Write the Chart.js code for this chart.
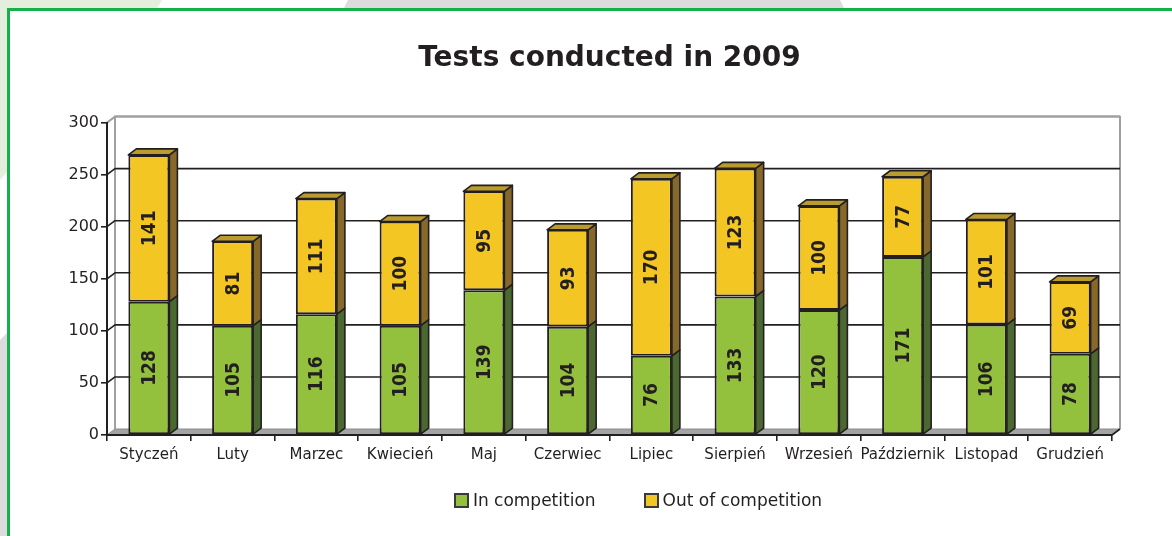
<!DOCTYPE html>
<html>
<head>
<meta charset="utf-8">
<script src="https://cdn.jsdelivr.net/npm/chart.js@4/dist/chart.umd.min.js"></script>
<style>
  html, body { margin: 0; padding: 0; background: #fff; overflow: hidden; }
  body { width: 1172px; height: 536px; position: relative; font-family: 'DejaVu Sans', sans-serif; }
  .deco-green { position: absolute; left: 0; top: 0; width: 170px; height: 180px; background: #e3efdc;
    clip-path: polygon(0 0, 162px 0, 156px 10px, 10px 10px, 10px 168px, 0 180px); }
  .deco-grey-top { position: absolute; left: 340px; top: 0; width: 510px; height: 12px; background: #dcdcde;
    clip-path: polygon(8px 0, 500px 0, 506px 12px, 2px 12px); }
  .deco-grey-left { position: absolute; left: 0; top: 330px; width: 10px; height: 206px; background: #dcdcde;
    clip-path: polygon(0 10px, 10px 0, 10px 206px, 0 206px); }
  .frame { position: absolute; left: 7px; top: 8px; width: 1200px; height: 600px; border: 3px solid #15b04a; background: #fff; }
  #chart { position: absolute; left: 0; top: 0; }
  #legend { position: absolute; top: 490px; left: 0; width: 1276px; display: flex; justify-content: center; gap: 48px;
    font-size: 17px; color: #231f20; }
  #legend .item { display: flex; align-items: center; gap: 4px; }
  #legend .box { width: 11px; height: 11px; border: 2px solid #3a3a3a; }
</style>
</head>
<body>
<div class="deco-green"></div>
<div class="deco-grey-top"></div>
<div class="deco-grey-left"></div>
<div class="frame"></div>
<canvas id="chart" width="1172" height="536"></canvas>
<div id="legend"></div>
<script>
const months = ['Styczeń', 'Luty', 'Marzec', 'Kwiecień', 'Maj', 'Czerwiec', 'Lipiec', 'Sierpień', 'Wrzesień', 'Październik', 'Listopad', 'Grudzień'];
const inCompetition = [128, 105, 116, 105, 139, 104, 76, 133, 120, 171, 106, 78];
const outOfCompetition = [141, 81, 111, 100, 95, 93, 170, 123, 100, 77, 101, 69];
const seriesNames = ['In competition', 'Out of competition'];
const yTicks = [0, 50, 100, 150, 200, 250, 300];

const frontColors = ['#93c13e', '#f4c623'];
const sideColors = ['#4b6830', '#86692a'];
const topColor = '#b99b2e';
const ink = '#231f20';
const DX = 8, DY = 6;

function poly(ctx, pts, fill) {
    ctx.beginPath();
    ctx.moveTo(pts[0][0], pts[0][1]);
    for (let i = 1; i < pts.length; i++) ctx.lineTo(pts[i][0], pts[i][1]);
    ctx.closePath();
    ctx.fillStyle = fill;
    ctx.fill();
    ctx.stroke();
}

// back wall, floor and gridlines (drawn before the scales)
const wallPlugin = {
    id: 'wall3d',
    beforeDraw(chart) {
        const {ctx, chartArea: a, scales: {y}} = chart;
        ctx.save();
        ctx.lineJoin = 'round';
        // floor
        ctx.strokeStyle = '#8c8c8c';
        ctx.lineWidth = 1;
        poly(ctx, [[a.left, a.bottom], [a.right, a.bottom], [a.right + DX, a.bottom - DY], [a.left + DX, a.bottom - DY]], '#a4a4a6');
        // wall outline
        ctx.strokeStyle = '#a0a0a0';
        ctx.lineWidth = 2;
        ctx.beginPath();
        ctx.moveTo(a.left + DX, a.bottom - DY);
        ctx.lineTo(a.left + DX, a.top - DY);
        ctx.lineTo(a.right + DX, a.top - DY);
        ctx.lineTo(a.right + DX, a.bottom - DY);
        ctx.stroke();
        // gridlines
        yTicks.forEach(v => {
            if (v === 0) return;
            const py = y.getPixelForValue(v);
            const isTop = v === yTicks[yTicks.length - 1];
            ctx.strokeStyle = isTop ? '#a0a0a0' : ink;
            ctx.lineWidth = isTop ? 2 : 1.6;
            ctx.beginPath();
            ctx.moveTo(a.left, py);
            ctx.lineTo(a.left + DX, py - DY);
            ctx.lineTo(a.right + DX, py - DY);
            ctx.stroke();
        });
        // front floor edge
        ctx.strokeStyle = ink;
        ctx.lineWidth = 1.6;
        ctx.beginPath();
        ctx.moveTo(a.right, a.bottom);
        ctx.lineTo(a.right + DX, a.bottom - DY);
        ctx.stroke();
        ctx.restore();
    }
};

// side / top faces and the value labels
const barPlugin = {
    id: 'bars3d',
    afterDatasetsDraw(chart) {
        const ctx = chart.ctx;
        const last = chart.data.datasets.length - 1;
        ctx.save();
        ctx.strokeStyle = ink;
        ctx.lineWidth = 1.6;
        ctx.lineJoin = 'round';
        chart.data.datasets.forEach((ds, di) => {
            chart.getDatasetMeta(di).data.forEach((bar, i) => {
                const {x, y, base, width} = bar.getProps(['x', 'y', 'base', 'width'], true);
                const l = x - width / 2, r = x + width / 2;
                poly(ctx, [[r, y], [r + DX, y - DY], [r + DX, base - DY], [r, base]], sideColors[di]);
                if (di === last) {
                    poly(ctx, [[l, y], [l + DX, y - DY], [r + DX, y - DY], [r, y]], topColor);
                }
                ctx.save();
                ctx.translate(x, (y + base) / 2);
                ctx.rotate(-Math.PI / 2);
                ctx.fillStyle = ink;
                ctx.font = 'bold 19px "DejaVu Sans Condensed", "DejaVu Sans"';
                ctx.textAlign = 'center';
                ctx.textBaseline = 'middle';
                ctx.fillText(ds.data[i], 0, 1);
                ctx.restore();
            });
        });
        ctx.restore();
    }
};

const chart = new Chart(document.getElementById('chart'), {
    type: 'bar',
    data: {
        labels: months,
        datasets: [
            {label: seriesNames[0], data: inCompetition, backgroundColor: frontColors[0]},
            {label: seriesNames[1], data: outOfCompetition, backgroundColor: frontColors[1]}
        ]
    },
    options: {
        responsive: false,
        devicePixelRatio: 1,
        animation: false,
        layout: {padding: {left: 7, right: 60, top: 0, bottom: 61}},
        datasets: {
            bar: {
                categoryPercentage: 1,
                barPercentage: 0.49,
                borderWidth: 2,
                borderColor: ink,
                borderSkipped: false
            }
        },
        plugins: {
            legend: {display: false},
            tooltip: {enabled: false},
            title: {
                display: true,
                text: 'Tests conducted in 2009',
                fullSize: false,
                color: ink,
                font: {family: 'DejaVu Sans', size: 28, weight: 'bold'},
                padding: {top: 42, bottom: 47}
            }
        },
        scales: {
            x: {
                stacked: true,
                afterFit: s => { s.height = 40; },
                border: {display: true, color: ink, width: 2},
                grid: {drawOnChartArea: false, drawTicks: true, tickLength: 6, color: ink, lineWidth: 1.6},
                ticks: {color: ink, font: {family: 'DejaVu Sans', size: 15}, padding: 5, autoSkip: false, maxRotation: 0}
            },
            y: {
                stacked: true,
                min: 0,
                max: 300,
                afterFit: s => { s.width = 100; },
                afterBuildTicks: s => { s.ticks = yTicks.map(v => ({value: v})); },
                border: {display: true, color: ink, width: 2},
                grid: {drawOnChartArea: false, drawTicks: true, tickLength: 6, color: ink, lineWidth: 1.6},
                ticks: {color: ink, font: {family: 'DejaVu Sans', size: 16}, padding: 2}
            }
        }
    },
    plugins: [wallPlugin, barPlugin]
});

// legend below the chart
const legendEl = document.getElementById('legend');
chart.data.datasets.forEach(ds => {
    const item = document.createElement('div');
    item.className = 'item';
    const box = document.createElement('span');
    box.className = 'box';
    box.style.background = ds.backgroundColor;
    const txt = document.createElement('span');
    txt.textContent = ds.label;
    item.appendChild(box);
    item.appendChild(txt);
    legendEl.appendChild(item);
});
</script>
</body>
</html>
